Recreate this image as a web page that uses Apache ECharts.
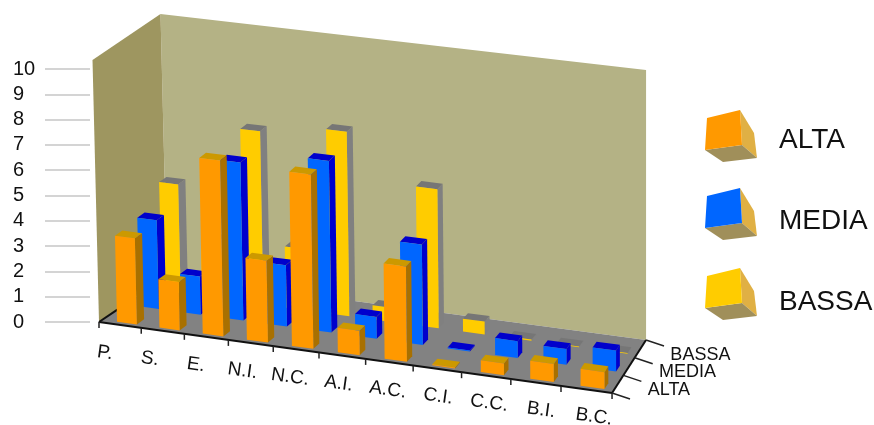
<!DOCTYPE html>
<html>
<head>
<meta charset="utf-8">
<style>html,body{margin:0;padding:0;background:#fff}#c{width:874px;height:425px;filter:blur(0.5px)}</style>
<script src="https://cdn.jsdelivr.net/npm/echarts@6/dist/echarts.min.js"></script>
</head>
<body>
<div id="c"></div>
<script>
const categories = ['P.','S.','E.','N.I.','N.C.','A.I.','A.C.','C.I.','C.C.','B.I.','B.C.'];
const alta  = [3.4,1.9,6.9,3.2,6.8,0.95,3.7,0.04,0.45,0.7,0.65];
const media = [3.5,1.5,6.2,2.4,6.7,0.85,3.9,0.04,0.65,0.6,0.8];
const bassa = [4.3,2.3,6.8,2.4,7.2,0.55,5.4,0.5,0.05,0.03,0.03];
const yTicks = [0,10];
const depthNames = ['ALTA','MEDIA','BASSA'];

const FONT = '"Liberation Sans", Arial, sans-serif';
const G = {left:90, top:69, width:550, height:253};
const cell = G.width / categories.length;
const C = {
  alta:  {front:'#FF9900', side:'#A87000', top:'#CC9900'},
  media: {front:'#0066FF', side:'#0000CC', top:'#0000CC'},
  bassa: {front:'#FFCC00', side:'#808080', top:'#767676'}
};

// Oblique view of the (u = category position, d = depth 0..1, h = pixel height) box.
function project(u, d, h) {
  const w = (41.8*u + 0.44*u*u) / 513;
  const fx = 99 + 513*w, fy = 322 + 71*w;
  const bx = 167 + 479*w, by = 276 + 64*w;
  const x = fx + (bx-fx)*d - h*(6.5/262)*(1-w);
  const y = fy + (by-fy)*d - h*(1+0.031*w);
  return [x, y];
}
const poly = (points, fill, extra) => Object.assign({type:'polygon', shape:{points}, style:{fill}, silent:true}, extra||{});
const seg = (a, b, stroke, lineWidth) => ({type:'line', shape:{x1:a[0],y1:a[1],x2:b[0],y2:b[1]}, style:{stroke, lineWidth}, silent:true});

function barSeries(name, values, row, col) {
  const d0 = row/3 + 0.05, d1 = d0 + 0.11;
  return {
    name, type:'custom', coordinateSystem:'cartesian2d',
    data: values.map((v,i)=>[i,v]), encode:{x:0,y:1},
    itemStyle:{color:col.front},
    renderItem(params, api) {
      const i = api.value(0);
      const base = api.coord([i, 0]);
      const top = api.coord([i, api.value(1)]);
      const h = base[1]-top[1];
      const u0 = (base[0]-G.left)/cell - 0.5 + 0.35, u1 = u0 + 0.47;
      const fb0 = project(u0,d0,0), fb1 = project(u1,d0,0), bb1 = project(u1,d1,0);
      const ft0 = project(u0,d0,h), ft1 = project(u1,d0,h), bt1 = project(u1,d1,h), bt0 = project(u0,d1,h);
      return {type:'group', children:[
        poly([fb1,bb1,bt1,ft1], col.side),
        poly([ft0,ft1,bt1,bt0], col.top),
        poly([fb0,fb1,ft1,ft0], col.front)
      ]};
    }
  };
}

const WALL = 262;
const frameSeries = {
  name:'frame', type:'custom', coordinateSystem:'cartesian2d', silent:true,
  data:[[0,0]], encode:{x:0,y:1},
  renderItem() {
    const A=project(0,0,0), B=project(11,0,0), E=project(11,1,0), D=project(0,1,0);
    const At=project(0,0,WALL), Dt=project(0,1,WALL), Et=project(11,1,WALL);
    const kids = [
      poly([Dt,Et,E,D], '#B4B285'),
      poly([At,Dt,D,A], '#9E9660'),
      poly([A,B,E,D], '#828282'),
      seg(A,project(0,0.27,0),'#111',2),
      seg(A,B,'#111',2),
      seg(B,E,'#111',2)
    ];
    for (let i=0;i<=categories.length;i++){
      const p=project(i,0,0);
      kids.push(seg(p,[p[0],p[1]+6],'#222',1.5));
    }
    for (let r=0;r<=depthNames.length;r++){
      const p=project(11,r/3,0);
      kids.push(seg(p,[p[0]+18,p[1]+6],'#222',1.5));
    }
    return {type:'group', children:kids};
  }
};

const labelSeries = {
  name:'labels', type:'custom', coordinateSystem:'cartesian2d', silent:true,
  data: categories.map((c,i)=>[i,0]), encode:{x:0,y:1},
  renderItem(params, api) {
    const i = api.value(0);
    const u = (api.coord([i,0])[0]-G.left)/cell - 0.5;
    const p = project(u,0,0);
    return {type:'text', x:p[0]+6+2.7*i, y:p[1]+31, rotation:-0.14,
      style:{text:categories[i], font:'19px '+FONT, fill:'#111', textAlign:'center', textVerticalAlign:'middle'}};
  }
};
const depthLabelSeries = {
  name:'depthLabels', type:'custom', coordinateSystem:'cartesian2d', silent:true,
  data: depthNames.map((c,i)=>[i,0]), encode:{x:0,y:1},
  renderItem(params, api) {
    const i = params.dataIndex;
    const p = project(11,(i+0.5)/3,0);
    return {type:'text', x:p[0]+30, y:p[1]+6,
      style:{text:depthNames[i], font:'18px '+FONT, fill:'#111', textAlign:'left', textVerticalAlign:'middle'}};
  }
};

function cube(dy, col) {
  const pts = a => a.map(p=>[p[0],p[1]+dy]);
  return [
    {type:'polygon', shape:{points:pts([[740,110],[754,133],[757,158],[742,145]])}, style:{fill:'#E0B044'}, silent:true},
    {type:'polygon', shape:{points:pts([[705,150],[742,145],[757,158],[723,162]])}, style:{fill:'#A08F5A'}, silent:true},
    {type:'polygon', shape:{points:pts([[707,118],[740,110],[742,145],[705,150]])}, style:{fill:col}, silent:true}
  ];
}

const chart = echarts.init(document.getElementById('c'), null, {renderer:'canvas'});
chart.setOption({
  animation:false,
  backgroundColor:'#fff',
  grid:Object.assign({containLabel:false}, G),
  xAxis:{type:'category', data:categories, show:false},
  yAxis:{type:'value', min:yTicks[0], max:yTicks[1], interval:1,
    axisLine:{show:false}, splitLine:{show:false},
    axisTick:{show:true, length:45, lineStyle:{color:'#c6c6c6', width:1.5}},
    axisLabel:{align:'left', margin:77, padding:[2,0,0,0], color:'#111', fontFamily:FONT, fontSize:20}},
  legend:{orient:'vertical', left:774, top:126, padding:0, itemWidth:0, itemHeight:26, itemGap:53,
    data:['ALTA','MEDIA','BASSA'], selectedMode:false,
    textStyle:{fontFamily:FONT, fontSize:28, color:'#111'}},
  graphic:{elements:[].concat(cube(0,C.alta.front), cube(78,C.media.front), cube(158,C.bassa.front))},
  tooltip:{show:false},
  series:[
    frameSeries,
    barSeries('BASSA', bassa, 2, C.bassa),
    barSeries('MEDIA', media, 1, C.media),
    barSeries('ALTA', alta, 0, C.alta),
    labelSeries,
    depthLabelSeries
  ]
});
</script>
</body>
</html>
